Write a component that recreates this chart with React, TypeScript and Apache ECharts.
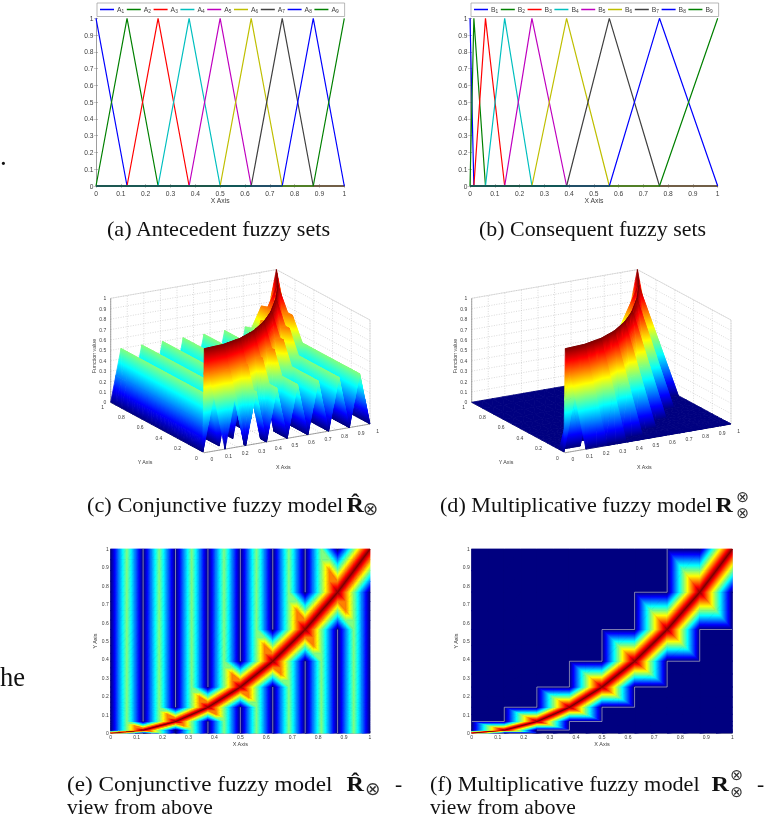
import React, { useEffect, useRef } from "react";
import * as echarts from "echarts";

const antecedentKnots = [0, 0.125, 0.25, 0.375, 0.5, 0.625, 0.75, 0.875, 1];
const consequentKnots = [0, 0.0156, 0.0625, 0.14, 0.25, 0.39, 0.5625, 0.765, 1];
const membershipRows = [
  [1, 0, 0, 0, 0, 0, 0, 0, 0],
  [0, 1, 0, 0, 0, 0, 0, 0, 0],
  [0, 0, 1, 0, 0, 0, 0, 0, 0],
  [0, 0, 0, 1, 0, 0, 0, 0, 0],
  [0, 0, 0, 0, 1, 0, 0, 0, 0],
  [0, 0, 0, 0, 0, 1, 0, 0, 0],
  [0, 0, 0, 0, 0, 0, 1, 0, 0],
  [0, 0, 0, 0, 0, 0, 0, 1, 0],
  [0, 0, 0, 0, 0, 0, 0, 0, 1],
];
const lineColors = ["#0000ff", "#008000", "#ff0000", "#00bfbf", "#bf00bf", "#bfbf00", "#404040", "#0000ff", "#008000"];

// Surface knots: the fuzzy-set peaks with their quarters (conjunctive model) or halves (multiplicative model).
const xQuarterKnots = [
  0, 0.03125, 0.0625, 0.09375, 0.125, 0.15625, 0.1875, 0.21875, 0.25, 0.28125, 0.3125, 0.34375, 0.375, 0.40625, 0.4375, 0.46875,
  0.5, 0.53125, 0.5625, 0.59375, 0.625, 0.65625, 0.6875, 0.71875, 0.75, 0.78125, 0.8125, 0.84375, 0.875, 0.90625, 0.9375, 0.96875, 1,
];
const yQuarterKnots = [
  0, 0.0039, 0.0078, 0.0117, 0.0156, 0.0273, 0.039, 0.0508, 0.0625, 0.0819, 0.1013, 0.1206, 0.14, 0.1675, 0.195, 0.2225,
  0.25, 0.285, 0.32, 0.355, 0.39, 0.433, 0.476, 0.519, 0.5625, 0.613, 0.664, 0.714, 0.765, 0.824, 0.882, 0.941, 1,
];
const xHalfKnots = [0, 0.0625, 0.125, 0.1875, 0.25, 0.3125, 0.375, 0.4375, 0.5, 0.5625, 0.625, 0.6875, 0.75, 0.8125, 0.875, 0.9375, 1];
const yHalfKnots = [0, 0.0078, 0.0156, 0.039, 0.0625, 0.101, 0.14, 0.195, 0.25, 0.32, 0.39, 0.476, 0.5625, 0.664, 0.765, 0.882, 1];

// rows: y knot, columns: x knot
const conjunctiveValues = [
  [1,.75,.5,.25, 0,.25,.5,.25, 0,.25,.5,.25, 0,.25,.5,.25, 0,.25,.5,.25, 0,.25,.5,.25, 0,.25,.5,.25, 0,.25,.5,.25, 0],
  [.75,1,.75,.5, .25,.5,.5,.25, 0,.25,.5,.25, 0,.25,.5,.25, 0,.25,.5,.25, 0,.25,.5,.25, 0,.25,.5,.25, 0,.25,.5,.25, 0],
  [.5,.75,1,.75, .5,.75,.5,.25, 0,.25,.5,.25, 0,.25,.5,.25, 0,.25,.5,.25, 0,.25,.5,.25, 0,.25,.5,.25, 0,.25,.5,.25, 0],
  [.25,.5,.75,1, .75,.75,.5,.25, 0,.25,.5,.25, 0,.25,.5,.25, 0,.25,.5,.25, 0,.25,.5,.25, 0,.25,.5,.25, 0,.25,.5,.25, 0],

  [0,.25,.5,.75, 1,.75,.5,.25, 0,.25,.5,.25, 0,.25,.5,.25, 0,.25,.5,.25, 0,.25,.5,.25, 0,.25,.5,.25, 0,.25,.5,.25, 0],
  [0,.25,.5,.75, .75,1,.75,.5, .25,.5,.5,.25, 0,.25,.5,.25, 0,.25,.5,.25, 0,.25,.5,.25, 0,.25,.5,.25, 0,.25,.5,.25, 0],
  [0,.25,.5,.75, .5,.75,1,.75, .5,.75,.5,.25, 0,.25,.5,.25, 0,.25,.5,.25, 0,.25,.5,.25, 0,.25,.5,.25, 0,.25,.5,.25, 0],
  [0,.25,.5,.5, .25,.5,.75,1, .75,.75,.5,.25, 0,.25,.5,.25, 0,.25,.5,.25, 0,.25,.5,.25, 0,.25,.5,.25, 0,.25,.5,.25, 0],

  [0,.25,.5,.25, 0,.25,.5,.75, 1,.75,.5,.25, 0,.25,.5,.25, 0,.25,.5,.25, 0,.25,.5,.25, 0,.25,.5,.25, 0,.25,.5,.25, 0],
  [0,.25,.5,.25, 0,.25,.5,.75, .75,1,.75,.5, .25,.5,.5,.25, 0,.25,.5,.25, 0,.25,.5,.25, 0,.25,.5,.25, 0,.25,.5,.25, 0],
  [0,.25,.5,.25, 0,.25,.5,.75, .5,.75,1,.75, .5,.75,.5,.25, 0,.25,.5,.25, 0,.25,.5,.25, 0,.25,.5,.25, 0,.25,.5,.25, 0],
  [0,.25,.5,.25, 0,.25,.5,.5, .25,.5,.75,1, .75,.75,.5,.25, 0,.25,.5,.25, 0,.25,.5,.25, 0,.25,.5,.25, 0,.25,.5,.25, 0],

  [0,.25,.5,.25, 0,.25,.5,.25, 0,.25,.5,.75, 1,.75,.5,.25, 0,.25,.5,.25, 0,.25,.5,.25, 0,.25,.5,.25, 0,.25,.5,.25, 0],
  [0,.25,.5,.25, 0,.25,.5,.25, 0,.25,.5,.75, .75,1,.75,.5, .25,.5,.5,.25, 0,.25,.5,.25, 0,.25,.5,.25, 0,.25,.5,.25, 0],
  [0,.25,.5,.25, 0,.25,.5,.25, 0,.25,.5,.75, .5,.75,1,.75, .5,.75,.5,.25, 0,.25,.5,.25, 0,.25,.5,.25, 0,.25,.5,.25, 0],
  [0,.25,.5,.25, 0,.25,.5,.25, 0,.25,.5,.5, .25,.5,.75,1, .75,.75,.5,.25, 0,.25,.5,.25, 0,.25,.5,.25, 0,.25,.5,.25, 0],

  [0,.25,.5,.25, 0,.25,.5,.25, 0,.25,.5,.25, 0,.25,.5,.75, 1,.75,.5,.25, 0,.25,.5,.25, 0,.25,.5,.25, 0,.25,.5,.25, 0],
  [0,.25,.5,.25, 0,.25,.5,.25, 0,.25,.5,.25, 0,.25,.5,.75, .75,1,.75,.5, .25,.5,.5,.25, 0,.25,.5,.25, 0,.25,.5,.25, 0],
  [0,.25,.5,.25, 0,.25,.5,.25, 0,.25,.5,.25, 0,.25,.5,.75, .5,.75,1,.75, .5,.75,.5,.25, 0,.25,.5,.25, 0,.25,.5,.25, 0],
  [0,.25,.5,.25, 0,.25,.5,.25, 0,.25,.5,.25, 0,.25,.5,.5, .25,.5,.75,1, .75,.75,.5,.25, 0,.25,.5,.25, 0,.25,.5,.25, 0],

  [0,.25,.5,.25, 0,.25,.5,.25, 0,.25,.5,.25, 0,.25,.5,.25, 0,.25,.5,.75, 1,.75,.5,.25, 0,.25,.5,.25, 0,.25,.5,.25, 0],
  [0,.25,.5,.25, 0,.25,.5,.25, 0,.25,.5,.25, 0,.25,.5,.25, 0,.25,.5,.75, .75,1,.75,.5, .25,.5,.5,.25, 0,.25,.5,.25, 0],
  [0,.25,.5,.25, 0,.25,.5,.25, 0,.25,.5,.25, 0,.25,.5,.25, 0,.25,.5,.75, .5,.75,1,.75, .5,.75,.5,.25, 0,.25,.5,.25, 0],
  [0,.25,.5,.25, 0,.25,.5,.25, 0,.25,.5,.25, 0,.25,.5,.25, 0,.25,.5,.5, .25,.5,.75,1, .75,.75,.5,.25, 0,.25,.5,.25, 0],

  [0,.25,.5,.25, 0,.25,.5,.25, 0,.25,.5,.25, 0,.25,.5,.25, 0,.25,.5,.25, 0,.25,.5,.75, 1,.75,.5,.25, 0,.25,.5,.25, 0],
  [0,.25,.5,.25, 0,.25,.5,.25, 0,.25,.5,.25, 0,.25,.5,.25, 0,.25,.5,.25, 0,.25,.5,.75, .75,1,.75,.5, .25,.5,.5,.25, 0],
  [0,.25,.5,.25, 0,.25,.5,.25, 0,.25,.5,.25, 0,.25,.5,.25, 0,.25,.5,.25, 0,.25,.5,.75, .5,.75,1,.75, .5,.75,.5,.25, 0],
  [0,.25,.5,.25, 0,.25,.5,.25, 0,.25,.5,.25, 0,.25,.5,.25, 0,.25,.5,.25, 0,.25,.5,.5, .25,.5,.75,1, .75,.75,.5,.25, 0],

  [0,.25,.5,.25, 0,.25,.5,.25, 0,.25,.5,.25, 0,.25,.5,.25, 0,.25,.5,.25, 0,.25,.5,.25, 0,.25,.5,.75, 1,.75,.5,.25, 0],
  [0,.25,.5,.25, 0,.25,.5,.25, 0,.25,.5,.25, 0,.25,.5,.25, 0,.25,.5,.25, 0,.25,.5,.25, 0,.25,.5,.75, .75,1,.75,.5, .25],
  [0,.25,.5,.25, 0,.25,.5,.25, 0,.25,.5,.25, 0,.25,.5,.25, 0,.25,.5,.25, 0,.25,.5,.25, 0,.25,.5,.75, .5,.75,1,.75, .5],
  [0,.25,.5,.25, 0,.25,.5,.25, 0,.25,.5,.25, 0,.25,.5,.25, 0,.25,.5,.25, 0,.25,.5,.25, 0,.25,.5,.5, .25,.5,.75,1, .75],

  [0,.25,.5,.25, 0,.25,.5,.25, 0,.25,.5,.25, 0,.25,.5,.25, 0,.25,.5,.25, 0,.25,.5,.25, 0,.25,.5,.25, 0,.25,.5,.75, 1],
];
const multiplicativeValues = [
  [1, .5, 0, 0, 0, 0, 0, 0, 0, 0, 0, 0, 0, 0, 0, 0, 0],
  [.5, 1, .5, .5, 0, 0, 0, 0, 0, 0, 0, 0, 0, 0, 0, 0, 0],
  [0, .5, 1, .5, 0, 0, 0, 0, 0, 0, 0, 0, 0, 0, 0, 0, 0],
  [0, .5, .5, 1, .5, .5, 0, 0, 0, 0, 0, 0, 0, 0, 0, 0, 0],
  [0, 0, 0, .5, 1, .5, 0, 0, 0, 0, 0, 0, 0, 0, 0, 0, 0],
  [0, 0, 0, .5, .5, 1, .5, .5, 0, 0, 0, 0, 0, 0, 0, 0, 0],
  [0, 0, 0, 0, 0, .5, 1, .5, 0, 0, 0, 0, 0, 0, 0, 0, 0],
  [0, 0, 0, 0, 0, .5, .5, 1, .5, .5, 0, 0, 0, 0, 0, 0, 0],
  [0, 0, 0, 0, 0, 0, 0, .5, 1, .5, 0, 0, 0, 0, 0, 0, 0],
  [0, 0, 0, 0, 0, 0, 0, .5, .5, 1, .5, .5, 0, 0, 0, 0, 0],
  [0, 0, 0, 0, 0, 0, 0, 0, 0, .5, 1, .5, 0, 0, 0, 0, 0],
  [0, 0, 0, 0, 0, 0, 0, 0, 0, .5, .5, 1, .5, .5, 0, 0, 0],
  [0, 0, 0, 0, 0, 0, 0, 0, 0, 0, 0, .5, 1, .5, 0, 0, 0],
  [0, 0, 0, 0, 0, 0, 0, 0, 0, 0, 0, .5, .5, 1, .5, .5, 0],
  [0, 0, 0, 0, 0, 0, 0, 0, 0, 0, 0, 0, 0, .5, 1, .5, 0],
  [0, 0, 0, 0, 0, 0, 0, 0, 0, 0, 0, 0, 0, .5, .5, 1, .5],
  [0, 0, 0, 0, 0, 0, 0, 0, 0, 0, 0, 0, 0, 0, 0, .5, 1],
];

// Pale lines seen on the views from above
const stripeX = [0.125, 0.25, 0.375, 0.375, 0.5, 0.5, 0.625, 0.625, 0.75, 0.75, 0.875];
const stripeFrom = [0.0625, 0.14, 0.25, 0, 0.39, 0, 0.5625, 0, 0.765, 0, 0];
const stripeTo = [1, 1, 1, 0.0625, 1, 0.14, 1, 0.25, 1, 0.39, 0.5625];
const upperStairX = [0, 0.125, 0.125, 0.25, 0.25, 0.375, 0.375, 0.5, 0.5, 0.625, 0.625, 0.75, 0.75];
const upperStairY = [0.0625, 0.0625, 0.14, 0.14, 0.25, 0.25, 0.39, 0.39, 0.5625, 0.5625, 0.765, 0.765, 1];
const lowerStairX = [0.25, 0.375, 0.375, 0.5, 0.5, 0.625, 0.625, 0.75, 0.75, 0.875, 0.875, 1];
const lowerStairY = [0.0156, 0.0156, 0.0625, 0.0625, 0.14, 0.14, 0.25, 0.25, 0.39, 0.39, 0.5625, 0.5625];

const tenthTicks = [0, 0.1, 0.2, 0.3, 0.4, 0.5, 0.6, 0.7, 0.8, 0.9, 1];
const fifthTicks = [0, 0.2, 0.4, 0.6, 0.8, 1];

const SANS = '"Liberation Sans", Arial, sans-serif';
const SERIF = '"Liberation Serif", "Times New Roman", serif';
const GREY = "#3c3c3c";

const jetKnots: [number, number[]][] = [
  [0, [0, 0, 0.5]], [0.125, [0, 0, 1]], [0.375, [0, 1, 1]], [0.625, [1, 1, 0]], [0.875, [1, 0, 0]], [1, [0.5, 0, 0]],
];
function jet(v: number) {
  const t = Math.max(0, Math.min(1, v));
  for (let i = 0; i < jetKnots.length - 1; i++) {
    const [a, ca] = jetKnots[i];
    const [b, cb] = jetKnots[i + 1];
    if (t <= b) {
      const f = (t - a) / (b - a);
      const c = ca.map((u, k) => Math.round((u + (cb[k] - u) * f) * 255));
      return `rgb(${c[0]},${c[1]},${c[2]})`;
    }
  }
  return "rgb(128,0,0)";
}

// Interpolated shading of one triangle, as in a surface drawn with "shading interp".
function shadedTriangle(pts: number[][], vals: number[]) {
  const lo = Math.min(...vals);
  const hi = Math.max(...vals);
  const [p0, p1, p2] = pts;
  const det = (p1[0] - p0[0]) * (p2[1] - p0[1]) - (p2[0] - p0[0]) * (p1[1] - p0[1]);
  let paint: any = jet((lo + hi) / 2);
  if (hi - lo > 1e-6 && Math.abs(det) > 1e-6) {
    const gx = ((vals[1] - vals[0]) * (p2[1] - p0[1]) - (vals[2] - vals[0]) * (p1[1] - p0[1])) / det;
    const gy = ((vals[2] - vals[0]) * (p1[0] - p0[0]) - (vals[1] - vals[0]) * (p2[0] - p0[0])) / det;
    const n = gx * gx + gy * gy;
    const start = pts[vals.indexOf(lo)];
    const end = [start[0] + (gx * (hi - lo)) / n, start[1] + (gy * (hi - lo)) / n];
    const stops = [{ offset: 0, color: jet(lo) }];
    for (const [k] of jetKnots) {
      if (k > lo && k < hi) stops.push({ offset: (k - lo) / (hi - lo), color: jet(k) });
    }
    stops.push({ offset: 1, color: jet(hi) });
    paint = new echarts.graphic.LinearGradient(start[0], start[1], end[0], end[1], stops, true);
  }
  return {
    type: "polygon",
    shape: { points: pts },
    style: { fill: paint, stroke: paint, lineWidth: 0.8 },
  };
}

type Surface = { values: number[][]; xs: number[]; ys: number[] };
const conjunctive: Surface = { values: conjunctiveValues, xs: xQuarterKnots, ys: yQuarterKnots };
const multiplicative: Surface = { values: multiplicativeValues, xs: xHalfKnots, ys: yHalfKnots };

// Each cell is split along the diagonal that carries the crease of the surface.
function cellTriangles(s: Surface, p: number, q: number, place: (x: number, y: number, v: number) => number[]) {
  const corner = (i: number, j: number) => {
    const v = s.values[j][i];
    return { pt: place(s.xs[i], s.ys[j], v), v };
  };
  const c00 = corner(p, q);
  const c10 = corner(p + 1, q);
  const c01 = corner(p, q + 1);
  const c11 = corner(p + 1, q + 1);
  const tri = (a: any, b: any, c: any) => shadedTriangle([a.pt, b.pt, c.pt], [a.v, b.v, c.v]);
  if (c00.v + c11.v >= c10.v + c01.v) {
    return [tri(c00, c10, c11), tri(c00, c01, c11)];
  }
  return [tri(c10, c11, c01), tri(c00, c10, c01)];
}

function cellRows(s: Surface, backToFront: boolean) {
  const rows: number[][] = [];
  for (let p = 0; p < s.xs.length - 1; p++) {
    for (let q = 0; q < s.ys.length - 1; q++) rows.push([s.xs[p], s.ys[q], p, q]);
  }
  if (backToFront) rows.sort((a, b) => b[2] - a[2] || b[3] - a[3]);
  return rows;
}

function heatSeries(idx: number, s: Surface) {
  return {
    type: "custom",
    xAxisIndex: idx,
    yAxisIndex: idx,
    silent: true,
    clip: false,
    z: 1,
    data: cellRows(s, false),
    renderItem: (_: any, api: any) => ({
      type: "group",
      children: cellTriangles(s, api.value(2), api.value(3), (x, y) => api.coord([x, y])),
    }),
  };
}

// View of the 3-D box: screen displacement of the unit x, y and z axes.
const project = (ox: number, x: number, y: number, z: number) => [
  ox + x * 165.7 - y * 93.6,
  452.7 - x * 28.7 - y * 50.4 - z * 104,
];

function boxSegments() {
  const segs: number[][] = [];
  for (const t of tenthTicks) {
    segs.push([t, 0, 0, t, 1, 0, 0], [t, 1, 0, t, 1, 1, 0], [0, 1, t, 1, 1, t, 0], [1, 1, t, 1, 0, t, 0]);
  }
  for (const t of fifthTicks) {
    segs.push([0, t, 0, 1, t, 0, 0], [1, t, 0, 1, t, 1, 0]);
  }
  segs.push(
    [0, 1, 1, 1, 1, 1, 1], [1, 1, 1, 1, 0, 1, 1], [1, 0, 0, 1, 0, 1, 1], [1, 1, 0, 1, 1, 1, 1],
    [0, 1, 0, 1, 1, 0, 1], [1, 1, 0, 1, 0, 0, 1],
    [0, 1, 0, 0, 1, 1, 2], [0, 0, 0, 1, 0, 0, 2], [0, 0, 0, 0, 1, 0, 2]
  );
  return segs;
}

function boxLabels() {
  const rows: { v: number[]; text: string }[] = [];
  const fmt = (t: number) => String(t);
  for (const t of tenthTicks) rows.push({ v: [t, 0, 0, 7.7, 6.5, 0], text: fmt(t) });
  for (const t of fifthTicks) rows.push({ v: [0, t, 0, -8, 5, 0], text: fmt(t) });
  for (const t of tenthTicks) rows.push({ v: [0, 1, t, -4.5, 0, 1], text: fmt(t) });
  return rows;
}

function surfacePanelSeries(idx: number, ox: number, s: Surface) {
  const labels = boxLabels();
  return [
    {
      type: "custom",
      xAxisIndex: idx,
      yAxisIndex: idx,
      silent: true,
      clip: false,
      z: 1,
      data: boxSegments(),
      renderItem: (_: any, api: any) => {
        const a = project(ox, api.value(0), api.value(1), api.value(2));
        const b = project(ox, api.value(3), api.value(4), api.value(5));
        const kind = api.value(6);
        const pa = api.coord(a);
        const pb = api.coord(b);
        return {
          type: "line",
          shape: { x1: pa[0], y1: pa[1], x2: pb[0], y2: pb[1] },
          style:
            kind === 0
              ? { stroke: "#b4b4b4", lineWidth: 0.5, lineDash: [1, 1.5] }
              : kind === 1
              ? { stroke: "#c4c4c4", lineWidth: 0.5 }
              : { stroke: "#666666", lineWidth: 0.6 },
        };
      },
    },
    {
      type: "custom",
      xAxisIndex: idx,
      yAxisIndex: idx,
      silent: true,
      clip: false,
      z: 2,
      data: cellRows(s, true),
      renderItem: (_: any, api: any) => ({
        type: "group",
        children: cellTriangles(s, api.value(2), api.value(3), (x, y, v) => api.coord(project(ox, x, y, v))),
      }),
    },
    {
      type: "custom",
      xAxisIndex: idx,
      yAxisIndex: idx,
      silent: true,
      clip: false,
      z: 3,
      data: labels.map((l) => l.v),
      renderItem: (params: any, api: any) => {
        const p = api.coord(project(ox, api.value(0), api.value(1), api.value(2)));
        return {
          type: "text",
          x: p[0] + api.value(3),
          y: p[1] + api.value(4),
          style: {
            text: labels[params.dataIndex].text,
            fontSize: 5,
            fontFamily: SANS,
            fill: GREY,
            align: api.value(5) ? "right" : "center",
            verticalAlign: "middle",
          },
        };
      },
    },
  ];
}

const tickLabel = (v: number) => String(Number(v.toFixed(1)));

function flatAxis(gridIndex: number, fontSize: number, margin: number, name: string, nameGap: number, nameSize: number, rotate: number) {
  return {
    gridIndex,
    type: "value",
    min: 0,
    max: 1,
    interval: 0.1,
    name,
    nameLocation: "middle",
    nameGap,
    nameRotate: rotate,
    nameTextStyle: { fontSize: nameSize, fontFamily: SANS, color: GREY },
    splitLine: { show: false },
    axisLine: { lineStyle: { color: "#666", width: 0.6 } },
    axisTick: { inside: true, length: 2, lineStyle: { color: "#777", width: 0.5 } },
    axisLabel: { fontSize, margin, color: GREY, fontFamily: SANS, formatter: tickLabel, hideOverlap: false, showMinLabel: true, showMaxLabel: true },
  };
}

function boxAxis(gridIndex: number, position: string) {
  return {
    gridIndex,
    type: "value",
    position,
    min: 0,
    max: 1,
    interval: 0.1,
    splitLine: { show: false },
    axisLabel: { show: false },
    axisLine: { lineStyle: { color: "#999", width: 0.6 } },
    axisTick: { inside: true, length: 2, lineStyle: { color: "#999", width: 0.5 } },
  };
}

const hiddenAxis = (gridIndex: number, min: number, max: number, inverse: boolean) => ({
  gridIndex,
  type: "value",
  min,
  max,
  inverse,
  show: false,
});

function fuzzySeries(prefix: string, idx: number, knots: number[]) {
  return membershipRows.map((row, i) => ({
    type: "line",
    name: `${prefix}${i + 1}`,
    xAxisIndex: idx,
    yAxisIndex: idx,
    symbol: "none",
    clip: false,
    silent: true,
    lineStyle: { color: lineColors[i], width: 1.2 },
    itemStyle: { color: lineColors[i] },
    data: knots.map((k, j) => [k, row[j]]),
  }));
}

function legendFor(prefix: string, left: number, right: number) {
  return {
    data: membershipRows.map((_, i) => ({ name: `${prefix}${i + 1}`, icon: "rect" })),
    left,
    top: 3,
    width: right - left,
    orient: "horizontal",
    itemWidth: 14,
    itemHeight: 1.5,
    itemGap: 2.6,
    padding: [3, 6, 3, 3],
    borderColor: "#999",
    borderWidth: 0.7,
    backgroundColor: "#fff",
    selectedMode: false,
    formatter: (n: string) => `{n|${n[0]}}{s|${n.slice(1)}}`,
    textStyle: {
      padding: [0, 0, 0, -2],
      rich: {
        n: { fontSize: 6.8, fontFamily: SANS, color: GREY },
        s: { fontSize: 4.8, fontFamily: SANS, color: GREY, verticalAlign: "bottom", padding: [3, 0, 0, 0] },
      },
    },
  };
}

const paleLine = (idx: number, data: any[]) => ({
  type: "line",
  xAxisIndex: idx,
  yAxisIndex: idx,
  symbol: "none",
  silent: true,
  clip: false,
  z: 4,
  lineStyle: { color: "#cfcfcf", width: 0.6 },
  connectNulls: false,
  data,
});

const zip = (xs: number[], ys: number[]) => xs.map((x, i) => [x, ys[i]]);

function text(x: number, y: number, t: string, size: number, opts: any = {}) {
  return {
    type: "text",
    x,
    y,
    rotation: opts.rotation || 0,
    scaleX: opts.scaleX || 1,
    silent: true,
    z: 10,
    style: {
      text: t,
      fontSize: size,
      fontFamily: opts.family || SERIF,
      fontWeight: opts.weight || "normal",
      fill: opts.fill || "#111",
      align: opts.align || "left",
      verticalAlign: "middle",
    },
  };
}

function boxNames(shift: number) {
  return [
    text(145 + shift, 461.7, "Y Axis", 5.3, { family: SANS, fill: GREY, align: "center" }),
    text(283.3 + shift, 467, "X Axis", 5.3, { family: SANS, fill: GREY, align: "center" }),
    text(94.3 + shift, 356, "Function value", 5.3, { family: SANS, fill: GREY, align: "center", rotation: Math.PI / 2 }),
  ];
}

const MATH = '"DejaVu Sans", sans-serif';
const circled = { family: MATH, align: "center", fill: "#333" };
const boldR = { weight: "bold", scaleX: 1.12 };

const graphics = [
  text(0, 156, ".", 27),
  text(0, 676.5, "he", 26.5),
  text(107, 229, "(a) Antecedent fuzzy sets", 21.5, { scaleX: 1.03 }),
  text(479, 229, "(b) Consequent fuzzy sets", 21.5, { scaleX: 1.02 }),
  ...boxNames(0),
  ...boxNames(361),
  text(87, 505, "(c) Conjunctive fuzzy model", 21.5, { scaleX: 1.04 }),
  text(346.5, 505, "R\u0302", 21.5, boldR),
  text(370.5, 508, "\u2297", 18.5, circled),
  text(440, 505, "(d) Multiplicative fuzzy model", 21.5, { scaleX: 1.03 }),
  text(715.5, 505, "R", 21.5, boldR),
  text(742.7, 496.7, "\u2297", 15.5, circled),
  text(742.7, 513.3, "\u2297", 15.5, circled),
  text(67, 784, "(e) Conjunctive fuzzy model", 21.5, { scaleX: 1.077 }),
  text(346.5, 784, "R\u0302", 21.5, boldR),
  text(372.7, 788, "\u2297", 18.5, circled),
  text(395, 784, "-", 21.5),
  text(67, 807, "view from above", 21.5),
  text(430, 784, "(f) Multiplicative fuzzy model", 21.5, { scaleX: 1.034 }),
  text(711.5, 784, "R", 21.5, boldR),
  text(736.7, 775.3, "\u2297", 15.5, circled),
  text(736.7, 792, "\u2297", 15.5, circled),
  text(757, 784, "-", 21.5),
  text(430, 807, "view from above", 21.5),
];

function buildOption() {
  const stripes: any[] = [];
  stripeX.forEach((x, i) => {
    stripes.push([x, stripeFrom[i]], [x, stripeTo[i]], [null, null]);
  });
  return {
    animation: false,
    backgroundColor: "#fff",
    textStyle: { fontFamily: SANS },
    legend: [legendFor("A", 97, 346), legendFor("B", 471, 719)],
    graphic: graphics,
    grid: [
      { left: 96, top: 18.3, width: 248.3, height: 167.7 },
      { left: 470, top: 18.3, width: 247.7, height: 167.7 },
      { left: 90, top: 260, width: 300, height: 220 },
      { left: 451, top: 260, width: 300, height: 220 },
      { left: 110.7, top: 549, width: 259.3, height: 184, show: true, backgroundColor: "#000080", borderWidth: 0 },
      { left: 471.7, top: 549, width: 260.6, height: 184, show: true, backgroundColor: "#000080", borderWidth: 0 },
    ],
    xAxis: [
      flatAxis(0, 6.7, 3.5, "X Axis", 10, 6.8, 0),
      flatAxis(1, 6.7, 3.5, "X Axis", 10, 6.8, 0),
      hiddenAxis(2, 90, 390, false),
      hiddenAxis(3, 451, 751, false),
      flatAxis(4, 5, 1.5, "X Axis", 7.5, 5.5, 0),
      flatAxis(5, 5, 1.5, "X Axis", 7.5, 5.5, 0),
      boxAxis(0, "top"),
      boxAxis(1, "top"),
    ],
    yAxis: [
      flatAxis(0, 6.7, 2.5, "", 0, 6.8, 90),
      flatAxis(1, 6.7, 2.5, "", 0, 6.8, 90),
      hiddenAxis(2, 260, 480, true),
      hiddenAxis(3, 260, 480, true),
      flatAxis(4, 5, 2, "Y Axis", 11, 5.5, 90),
      flatAxis(5, 5, 2, "Y Axis", 11, 5.5, 90),
      boxAxis(0, "right"),
      boxAxis(1, "right"),
    ],
    series: [
      ...fuzzySeries("A", 0, antecedentKnots),
      ...fuzzySeries("B", 1, consequentKnots),
      ...surfacePanelSeries(2, 204.3, conjunctive),
      ...surfacePanelSeries(3, 565.3, multiplicative),
      heatSeries(4, conjunctive),
      heatSeries(5, multiplicative),
      paleLine(4, stripes),
      paleLine(5, zip(upperStairX, upperStairY)),
      paleLine(5, zip(lowerStairX, lowerStairY)),
    ],
  };
}

export default function App() {
  const ref = useRef<HTMLDivElement>(null);
  useEffect(() => {
    if (!ref.current) return;
    const chart = echarts.init(ref.current, undefined, { renderer: "svg" });
    chart.setOption(buildOption() as any);
    return () => chart.dispose();
  }, []);
  return (
    <div
      ref={ref}
      style={{ position: "absolute", left: 0, top: 0, width: 780, height: 821, filter: "blur(0.45px)" }}
    />
  );
}
